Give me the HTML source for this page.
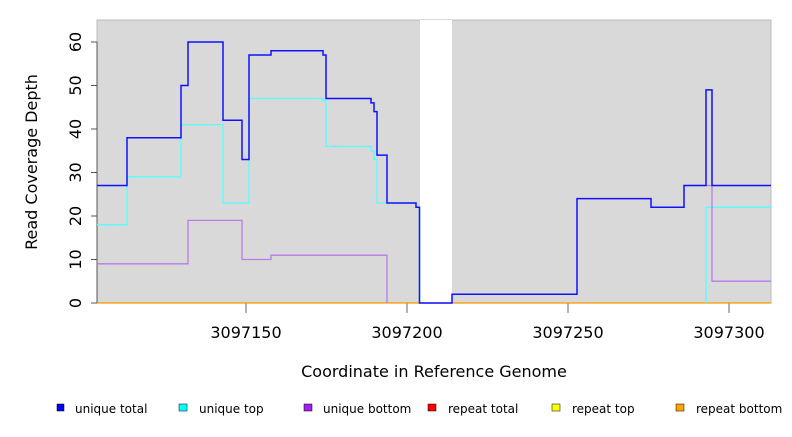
<!DOCTYPE html>
<html><head><style>body{margin:0;background:#fff}</style></head><body>
<svg width="792" height="432" xmlns="http://www.w3.org/2000/svg" font-family="DejaVu Sans, Liberation Sans, sans-serif">
<rect x="97" y="20" width="674" height="283" fill="#d9d9d9" stroke="#bbb"/>
<rect x="420" y="20" width="32" height="284" fill="#fff"/>
<g stroke="#555" stroke-width="1">
<line x1="97" y1="42" x2="97" y2="303"/>
<line x1="91" y1="303" x2="97" y2="303"/><line x1="91" y1="259.5" x2="97" y2="259.5"/><line x1="91" y1="216" x2="97" y2="216"/><line x1="91" y1="172.5" x2="97" y2="172.5"/><line x1="91" y1="129" x2="97" y2="129"/><line x1="91" y1="85.5" x2="97" y2="85.5"/><line x1="91" y1="42" x2="97" y2="42"/>
</g>
<g stroke="#999" stroke-width="1.5"><line x1="246" y1="303" x2="246" y2="313"/><line x1="407" y1="303" x2="407" y2="313"/><line x1="568" y1="303" x2="568" y2="313"/><line x1="729" y1="303" x2="729" y2="313"/></g>
<g font-size="16" fill="#000" text-anchor="middle">
<text transform="translate(75,303) rotate(-90)" dy="6">0</text>
<text transform="translate(75,259.5) rotate(-90)" dy="6">10</text>
<text transform="translate(75,216) rotate(-90)" dy="6">20</text>
<text transform="translate(75,172.5) rotate(-90)" dy="6">30</text>
<text transform="translate(75,129) rotate(-90)" dy="6">40</text>
<text transform="translate(75,85.5) rotate(-90)" dy="6">50</text>
<text transform="translate(75,42) rotate(-90)" dy="6">60</text>
<text x="246" y="338">3097150</text><text x="407" y="338">3097200</text><text x="568" y="338">3097250</text><text x="729" y="338">3097300</text>
<text x="434" y="377">Coordinate in Reference Genome</text>
<text transform="translate(37,162) rotate(-90)">Read Coverage Depth</text>
</g>
<line x1="97" y1="303" x2="771" y2="303" stroke="#f90" stroke-width="1.2"/>
<polyline fill="none" stroke="#5ff" stroke-width="1.3" points="97,224.7 127,224.7 127,176.8 181,176.8 181,124.6 223,124.6 223,203 249,203 249,98.5 323,98.5 323,100.9 326,100.9 326,146.4 371,146.4 371,150.8 374,150.8 374,159.5 377,159.5 377,203 416,203 416,207.3 419.5,207.3 419.5,303"/>
<polyline fill="none" stroke="#5ff" stroke-width="1.3" points="706,303 706,207.3 771,207.3"/>
<polyline fill="none" stroke="#b87be8" stroke-width="1.3" points="97,263.8 188,263.8 188,220.4 242,220.4 242,259.5 271,259.5 271,255.2 387,255.2 387,303"/>
<polyline fill="none" stroke="#b87be8" stroke-width="1.3" points="684,185.5 712,185.5 712,281.2 771,281.2"/>
<polyline fill="none" stroke="#11f" stroke-width="1.5" points="97,185.5 127,185.5 127,137.7 181,137.7 181,85.5 188,85.5 188,42 223,42 223,120.3 242,120.3 242,159.5 249,159.5 249,55 271,55 271,50.7 323,50.7 323,55 326,55 326,98.5 371,98.5 371,102.9 374,102.9 374,111.6 377,111.6 377,155.1 387,155.1 387,203 416,203 416,207.3 419.5,207.3 419.5,303 452,303 452,294.3 577,294.3 577,198.6 651,198.6 651,207.3 684,207.3 684,185.5 706,185.5 706,89.9 712,89.9 712,185.5 771,185.5"/>
<g font-size="12" fill="#000">
<rect x="57" y="404" width="7" height="7" fill="#00f" stroke="#000" stroke-width=".5"/><text x="75" y="413">unique total</text>
<rect x="179" y="404" width="8" height="7" fill="#0ff" stroke="#000" stroke-width=".5"/><text x="199" y="413">unique top</text>
<rect x="304" y="404" width="8" height="7" fill="#a020f0" stroke="#000" stroke-width=".5"/><text x="323" y="413">unique bottom</text>
<rect x="428" y="404" width="8" height="7" fill="#f00" stroke="#000" stroke-width=".5"/><text x="448" y="413">repeat total</text>
<rect x="552" y="404" width="8" height="7" fill="#ff0" stroke="#000" stroke-width=".5"/><text x="572" y="413">repeat top</text>
<rect x="676" y="404" width="8" height="7" fill="#ffa500" stroke="#000" stroke-width=".5"/><text x="696" y="413">repeat bottom</text>
</g>
</svg>
</body></html>
